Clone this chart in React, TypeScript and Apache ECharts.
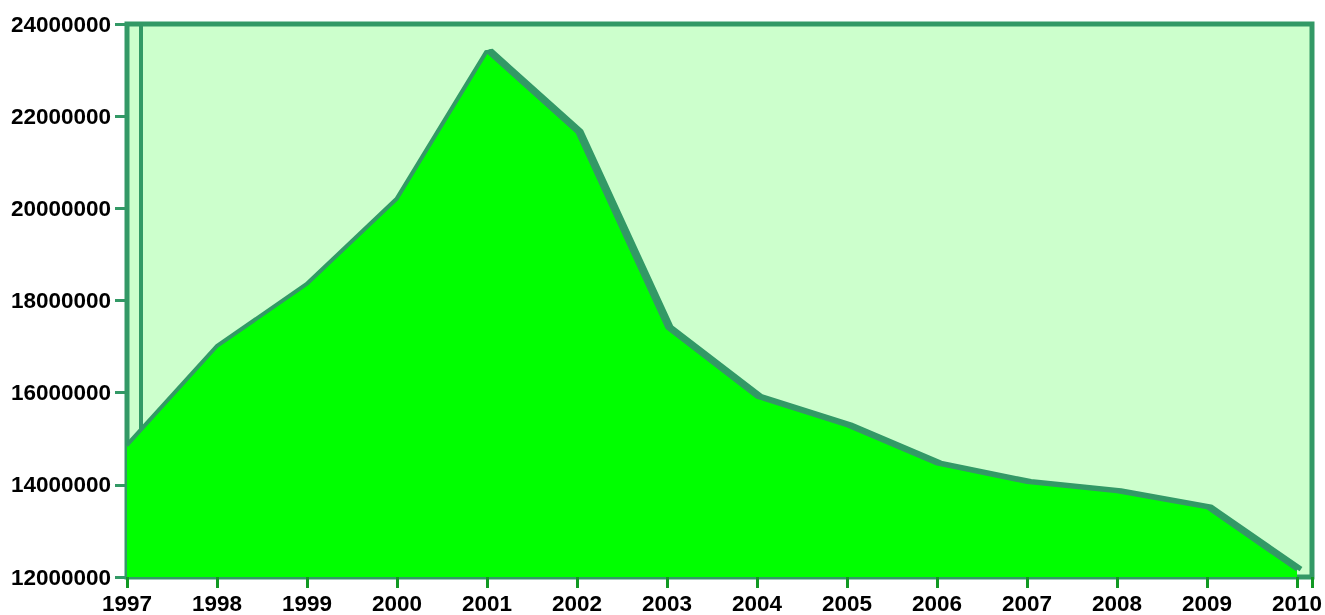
import React, { useEffect, useRef } from "react";
import * as echarts from "echarts";

const years = [1997, 1998, 1999, 2000, 2001, 2002, 2003, 2004, 2005, 2006, 2007, 2008, 2009, 2010];
const values = [
  14850000, 17000000, 18350000, 20200000, 23400000, 21650000, 17400000,
  15900000, 15280000, 14450000, 14050000, 13850000, 13500000, 12150000,
];
const yMin = 12000000;
const yMax = 24000000;
const yStep = 2000000;

export default function App() {
  const ref = useRef<HTMLDivElement>(null);
  useEffect(() => {
    if (!ref.current) return;
    const chart = echarts.init(ref.current, null, { renderer: "svg" });
    const pts = years.map((y, i) => [y, values[i]]);
    const font = { fontFamily: "Arial, 'Liberation Sans', sans-serif", fontWeight: "bold" as const, fontSize: 22.5, color: "#000" };
    chart.setOption({
      animation: false,
      grid: {
        left: 127,
        top: 24,
        width: 1187,
        height: 554,
        show: true,
        backgroundColor: "#ccffcc",
        borderColor: "#339966",
        borderWidth: 5,
      },
      xAxis: {
        type: "value",
        min: 1997,
        max: 1997 + 1187 / 90.15,
        interval: 1,
        axisLine: { show: true, lineStyle: { color: "#339966", width: 4 } },
        axisTick: { show: true, length: 11, lineStyle: { color: "#119922", width: 3 } },
        axisLabel: {
          ...font,
          margin: 15,
          formatter: (v: number) => (Math.abs(v - Math.round(v)) < 1e-6 ? String(Math.round(v)) : ""),
        },
        splitLine: { show: false },
      },
      yAxis: {
        type: "value",
        min: yMin,
        max: yMax,
        interval: yStep,
        axisLine: { show: true, lineStyle: { color: "#339966", width: 4 } },
        axisTick: { show: true, length: 12, lineStyle: { color: "#339966", width: 3 } },
        axisLabel: { ...font, margin: 16, formatter: (v: number) => String(v) },
        splitLine: { show: false },
      },
      graphic: [
        {
          type: "line",
          shape: { x1: 141, y1: 24, x2: 141, y2: 436 },
          style: { stroke: "#339966", lineWidth: 4 },
          z: 1,
        },
      ],
      series: [
        {
          type: "line",
          data: pts,
          symbol: "none",
          z: 2,
          lineStyle: {
            color: "#339966",
            width: 5,
            shadowColor: "#339966",
            shadowBlur: 0,
            shadowOffsetX: 4,
            shadowOffsetY: -1,
          },
        },
        {
          type: "line",
          data: pts,
          symbol: "none",
          z: 3,
          lineStyle: { color: "#339966", width: 3 },
          areaStyle: { color: "#00ff00", opacity: 1 },
        },
      ],
    });
    return () => chart.dispose();
  }, []);
  return (
    <div
      ref={ref}
      style={{ position: "fixed", left: 0, top: 0, width: 1325, height: 615 }}
    />
  );
}
